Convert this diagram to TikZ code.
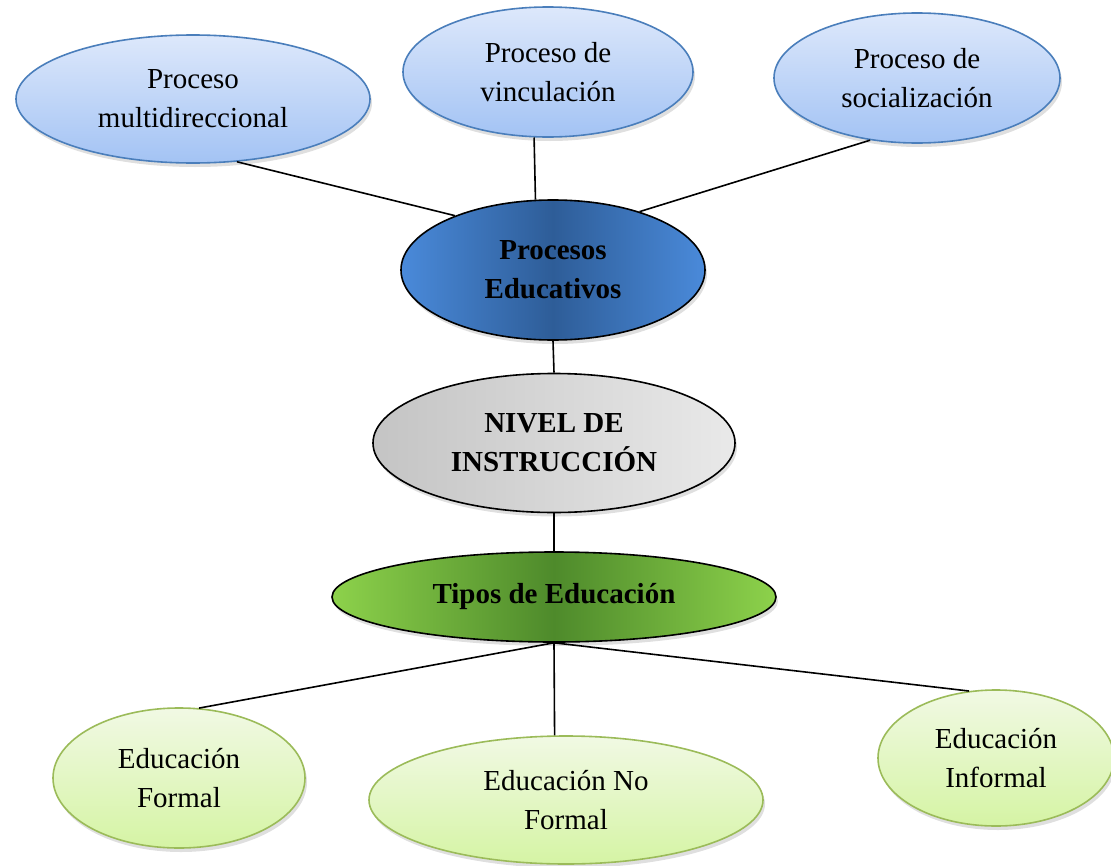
\documentclass[tikz,border=0pt]{standalone}
\usepackage{fontspec}
\setmainfont{Liberation Serif}
\usetikzlibrary{shapes.geometric,shadows}
\definecolor{lbtop}{HTML}{DDE8FB}
\definecolor{lbbot}{HTML}{A3C3F4}
\definecolor{lbline}{HTML}{4A7EBB}
\definecolor{dbedge}{HTML}{4A8ADA}
\definecolor{dbmid}{HTML}{2E5D98}
\definecolor{gyl}{HTML}{C4C4C4}
\definecolor{gyr}{HTML}{E9E9E9}
\definecolor{gredge}{HTML}{8DD24B}
\definecolor{grmid}{HTML}{4E8A2B}
\definecolor{lgtop}{HTML}{F1F9E4}
\definecolor{lgbot}{HTML}{D5F4A4}
\definecolor{lgline}{HTML}{9BBB59}
\tikzset{
  base/.style={ellipse, inner sep=0pt, align=center, line width=1.6bp,
    font=\fontsize{29bp}{39bp}\selectfont,
    drop shadow={opacity=0.25, shadow xshift=2bp, shadow yshift=-4bp}},
  topnode/.style={base, draw=lbline, top color=lbtop, bottom color=lbbot},
  edunode/.style={base, draw=black, left color=dbedge, right color=dbedge, middle color=dbmid,
    font=\fontsize{29bp}{39bp}\selectfont\bfseries},
  nivnode/.style={base, draw=black, left color=gyl, right color=gyr,
    font=\fontsize{29bp}{39bp}\selectfont\bfseries},
  tiponode/.style={base, draw=black, left color=gredge, right color=gredge, middle color=grmid,
    font=\fontsize{29bp}{39bp}\selectfont\bfseries},
  botnode/.style={base, draw=lgline, top color=lgtop, bottom color=lgbot},
  conn/.style={draw=black, line width=1.6bp}
}
\begin{document}
\begin{tikzpicture}[x=1bp,y=-1bp]
\useasboundingbox (0,0) rectangle (1111,866);
\node[topnode, minimum width=354bp, minimum height=128bp] (mul) at (193,99) {Proceso\\multidireccional};
\node[topnode, minimum width=290bp, minimum height=130bp] (vin) at (548,72) {Proceso de\\vinculación};
\node[topnode, minimum width=286bp, minimum height=130bp] (soc) at (917,78) {Proceso de\\socialización};
\node[edunode, minimum width=304bp, minimum height=140bp] (edu) at (553,270) {Procesos\\Educativos};
\node[nivnode, minimum width=362bp, minimum height=139bp] (niv) at (554,443) {NIVEL DE\\INSTRUCCIÓN};
\node[tiponode, minimum width=444bp, minimum height=90bp] (tip) at (554,597) {Tipos de Educación};
\node[botnode, minimum width=252bp, minimum height=140bp] (for) at (179,778) {Educación\\Formal};
\node[botnode, minimum width=394bp, minimum height=128bp] (nof) at (566,800) {Educación No\\Formal};
\node[botnode, minimum width=236bp, minimum height=136bp] (inf) at (996,758) {Educación\\Informal};
\draw[conn] (mul.-55.5) -- (edu.151.8);
\draw[conn] (vin.-102.4) -- (edu.104.4);
\draw[conn] (soc.-127.8) -- (edu.34);
\draw[conn] (edu.south) -- (niv.north);
\draw[conn] (niv.south) -- (tip.north);
\draw[conn] (tip.south) -- (for.74);
\draw[conn] (tip.south) -- (nof.100.8);
\draw[conn] (tip.south) -- (inf.112.4);
\end{tikzpicture}
\end{document}
